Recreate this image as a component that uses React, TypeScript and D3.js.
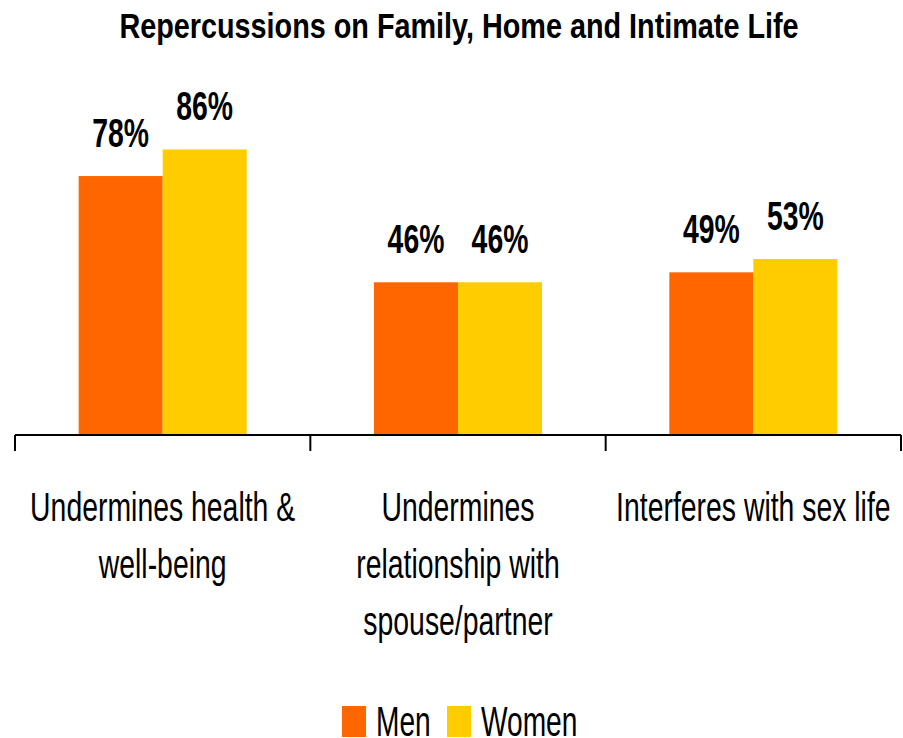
import React, { useEffect } from "react";
import * as d3 from "d3";

const categories = [
  ["Undermines health &", "well-being"],
  ["Undermines", "relationship with", "spouse/partner"],
  ["Interferes with sex life"],
];
const seriesNames = ["Men", "Women"];
const menValues = [78, 46, 49];
const womenValues = [86, 46, 53];
const colors = ["#FF6600", "#FFCC00"];

const W = 903;
const H = 738;
const FONT = "'Liberation Sans', Arial, sans-serif";

function NText(props: {
  x: number;
  y: number;
  sx: number;
  size: number;
  anchor?: string;
  bold?: boolean;
  children: React.ReactNode;
}) {
  const { x, y, sx, size, anchor = "middle", bold = false, children } = props;
  return (
    <text
      transform={`translate(${x},${y}) scale(${sx},1)`}
      textAnchor={anchor}
      fontFamily={FONT}
      fontWeight={bold ? "bold" : "normal"}
      fontSize={size}
      fill="#000"
    >
      {children}
    </text>
  );
}

export default function App() {
  useEffect(() => {
    document.body.style.margin = "0";
  }, []);
  const left = 15,
    right = 901,
    baseY = 435;
  const x0 = d3.scaleBand<number>().domain([0, 1, 2]).range([left, right]).paddingInner(0).paddingOuter(0);
  const x1 = d3.scaleBand<number>().domain([0, 1]).range([0, 168]);
  const y = d3.scaleLinear().domain([0, 100]).range([baseY, baseY - 332]);
  const series = [menValues, womenValues];
  const bw = x0.bandwidth();
  return (
    <svg width={W} height={H} style={{ display: "block", background: "#fff" }}>
      <NText x={459} y={38} sx={0.8} size={36} bold>
        Repercussions on Family, Home and Intimate Life
      </NText>
      {series.map((vals, s) =>
        vals.map((v, i) => {
          const gx = (x0(i) as number) + (bw - 168) / 2 + (x1(s) as number);
          return (
            <g key={`${s}-${i}`}>
              <rect x={gx} y={y(v)} width={x1.bandwidth()} height={baseY - y(v)} fill={colors[s]} />
              <NText x={gx + x1.bandwidth() / 2} y={y(v) - 29} sx={0.71} size={40} bold>
                {v}%
              </NText>
            </g>
          );
        })
      )}
      <line x1={left} x2={right} y1={baseY} y2={baseY} stroke="#000" strokeWidth={2} />
      {[0, 1, 2, 3].map((k) => {
        const tx = left + k * bw;
        return <line key={k} x1={tx} x2={tx} y1={baseY} y2={baseY + 16} stroke="#000" strokeWidth={2} />;
      })}
      {categories.map((lines, i) => (
        <g key={i}>
          {lines.map((l, j) => (
            <NText key={j} x={(x0(i) as number) + bw / 2} y={521 + j * 57} sx={0.71} size={40}>
              {l}
            </NText>
          ))}
        </g>
      ))}
      {seriesNames.map((n, s) => {
        const lx = [342, 447][s];
        return (
          <g key={n}>
            <rect x={lx} y={706} width={24} height={31} fill={colors[s]} />
            <NText x={lx + 34} y={736} sx={0.67} size={42} anchor="start">
              {n}
            </NText>
          </g>
        );
      })}
    </svg>
  );
}
